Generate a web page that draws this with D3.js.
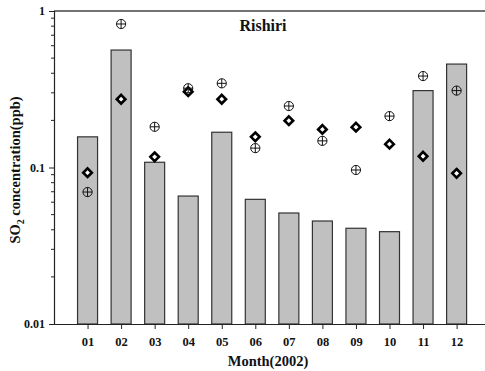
<!DOCTYPE html>
<html>
<head>
<meta charset="utf-8">
<script src="https://cdn.jsdelivr.net/npm/d3@7"></script>
<style>
  html, body { margin: 0; padding: 0; background: #fff; }
  svg { display: block; }
  text { font-family: "Liberation Serif", "Times New Roman", serif; font-weight: bold; fill: #111; }
</style>
</head>
<body>
<svg id="chart" width="485" height="371"></svg>
<script>
// Monthly SO2 concentration at Rishiri, 2002 (ppb)
const months = ["01","02","03","04","05","06","07","08","09","10","11","12"];
const barValues = [0.157, 0.563, 0.108, 0.0657, 0.168, 0.0626, 0.0512, 0.0455, 0.0409, 0.0389, 0.31, 0.458];
const diamondValues = [0.0926, 0.273, 0.117, 0.305, 0.273, 0.157, 0.199, 0.175, 0.181, 0.141, 0.118, 0.0918];
const circleValues = [0.0697, 0.826, 0.182, 0.321, 0.345, 0.133, 0.247, 0.148, 0.0964, 0.213, 0.384, 0.31];
const yTickValues = [0.01, 0.1, 1];
const yTickLabels = ["0.01", "0.1", "1"];

const svg = d3.select("#chart");
const plotLeft = 54, plotTop = 11, plotBottom = 324;

const x = d3.scaleLinear().domain([0, 13]).range([plotLeft, plotLeft + 13 * 33.55]);
const y = d3.scaleLog().domain([0.01, 1]).range([plotBottom, plotTop]);
const barW = 20;

// bars
svg.append("g").selectAll("rect").data(barValues).join("rect")
  .attr("x", (d, i) => x(i + 1) - barW / 2)
  .attr("y", d => y(d))
  .attr("width", barW)
  .attr("height", d => plotBottom - y(d))
  .attr("fill", "#c0c0c0")
  .attr("stroke", "#333")
  .attr("stroke-width", 1.2);

// top frame line
svg.append("line").attr("x1", plotLeft).attr("x2", 485).attr("y1", plotTop).attr("y2", plotTop)
  .attr("stroke", "#444").attr("stroke-width", 1.5);

// y axis with minor ticks
const minorTicks = [];
[0.01, 0.1].forEach(dec => { for (let k = 2; k <= 9; k++) minorTicks.push(dec * k); });
const yAxis = svg.append("g").attr("transform", `translate(${plotLeft},0)`)
  .call(d3.axisLeft(y).tickValues(yTickValues).tickFormat((d, i) => yTickLabels[i]).tickSize(5).tickPadding(4));
yAxis.select(".domain").attr("stroke", "#222").attr("stroke-width", 1.2);
yAxis.selectAll(".tick line").attr("stroke", "#222");
yAxis.selectAll("text").style("font-size", "12px").style("font-family", "Liberation Serif, serif").style("font-weight", "bold");
svg.append("g").selectAll("line").data(minorTicks).join("line")
  .attr("x1", plotLeft - 3).attr("x2", plotLeft)
  .attr("y1", d => y(d)).attr("y2", d => y(d))
  .attr("stroke", "#222");

// x axis
const xAxis = svg.append("g").attr("transform", `translate(0,${plotBottom})`)
  .call(d3.axisBottom(x).tickValues(d3.range(1, 13)).tickFormat(d => months[d - 1]).tickSize(5).tickSizeOuter(0).tickPadding(8));
xAxis.select(".domain").attr("stroke", "#222").attr("stroke-width", 1.2).attr("d", `M${plotLeft},0.5H485`);
xAxis.selectAll(".tick line").attr("stroke", "#222");
xAxis.selectAll("text").style("font-size", "12.5px").style("font-family", "Liberation Serif, serif").style("font-weight", "bold");

// diamond markers
const dSize = 4.3;
svg.append("g").selectAll("path").data(diamondValues).join("path")
  .attr("transform", (d, i) => `translate(${x(i + 1)},${y(d)})`)
  .attr("d", `M0,${-dSize}L${dSize},0L0,${dSize}L${-dSize},0Z`)
  .attr("fill", "#fff")
  .attr("stroke", "#000")
  .attr("stroke-width", 2.6)
  .attr("stroke-linejoin", "miter");

// crossed-circle markers
const r = 4.6;
const cg = svg.append("g").selectAll("g").data(circleValues).join("g")
  .attr("transform", (d, i) => `translate(${x(i + 1)},${y(d)})`);
cg.append("circle").attr("r", r).attr("fill", "none").attr("stroke", "#111").attr("stroke-width", 1);
cg.append("path").attr("d", `M${-r},0H${r}M0,${-r}V${r}`).attr("stroke", "#111").attr("stroke-width", 1);

// title
svg.append("text").attr("x", 263).attr("y", 31).attr("text-anchor", "middle")
  .style("font-size", "16px").text("Rishiri");

// axis titles
svg.append("text").attr("x", 268).attr("y", 366).attr("text-anchor", "middle")
  .style("font-size", "14.5px").text("Month(2002)");

const yl = svg.append("text").attr("transform", "translate(20,170) rotate(-90)")
  .attr("text-anchor", "middle").style("font-size", "14.5px");
yl.append("tspan").text("SO");
yl.append("tspan").attr("dy", 4).style("font-size", "10px").text("2");
yl.append("tspan").attr("dy", -4).text(" concentration(ppb)");
</script>
</body>
</html>
